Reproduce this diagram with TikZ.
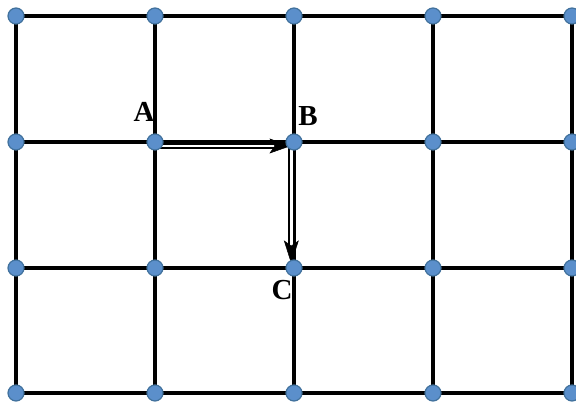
\documentclass[tikz,border=0pt]{standalone}
\usepackage{fontspec}
\setmainfont{Liberation Serif}
\usetikzlibrary{calc}
\definecolor{dotfill}{HTML}{5B8FCB}
\definecolor{dotedge}{HTML}{41719C}
\tikzset{
  gridline/.style={line width=3.1pt, black},
  dot/.style={circle, fill=dotfill, draw=dotedge, line width=1.2pt, minimum size=16pt, inner sep=0pt},
  lbl/.style={font=\fontsize{29}{29}\selectfont\bfseries, inner sep=0pt},
  dbl/.style={double=white, draw=black, line width=2.2pt, double distance=2.4pt},
  headfill/.style={fill=black, draw=black, line width=0.5pt, line join=miter}
}
\begin{document}
\begin{tikzpicture}[x=1pt,y=-1pt]
\useasboundingbox (0,0) rectangle (576,403);
\foreach \c/\x in {1/16,2/155,3/294,4/433,5/572}{
  \foreach \r/\y in {1/16,2/142,3/268,4/393}{
    \coordinate (g\c\r) at (\x,\y);
  }
}
% grid lines
\foreach \r in {1,2,3,4}{ \draw[gridline] (g1\r) -- (g5\r); }
\foreach \c in {1,2,3,4,5}{ \draw[gridline] (g\c1) -- (g\c4); }
% arrows
\coordinate (a0) at (158,146);
\coordinate (a1) at (278,146);
\coordinate (b0) at (291.3,143);
\coordinate (b1) at (291.3,250);
\draw[dbl] (b0) -- (b1);
\draw[dbl] (a0) -- (a1);
\coordinate (ha) at (290,146);
\coordinate (hb) at (291.3,263);
\fill[headfill] (ha) -- ++(-20,7) -- ++(5,-7) -- ++(-5,-7) -- cycle;
\fill[headfill] (hb) -- ++(-7,-22) -- ++(7,5) -- ++(7,-5) -- cycle;
% dots
\foreach \c in {1,2,3,4,5}{
  \foreach \r in {1,2,3,4}{
    \node[dot] (p\c\r) at (g\c\r) {};
  }
}
\node[lbl] (A) at (144,112) {A};
\node[lbl] (B) at (308,116) {B};
\node[lbl] (C) at (282,290) {C};
\end{tikzpicture}
\end{document}
